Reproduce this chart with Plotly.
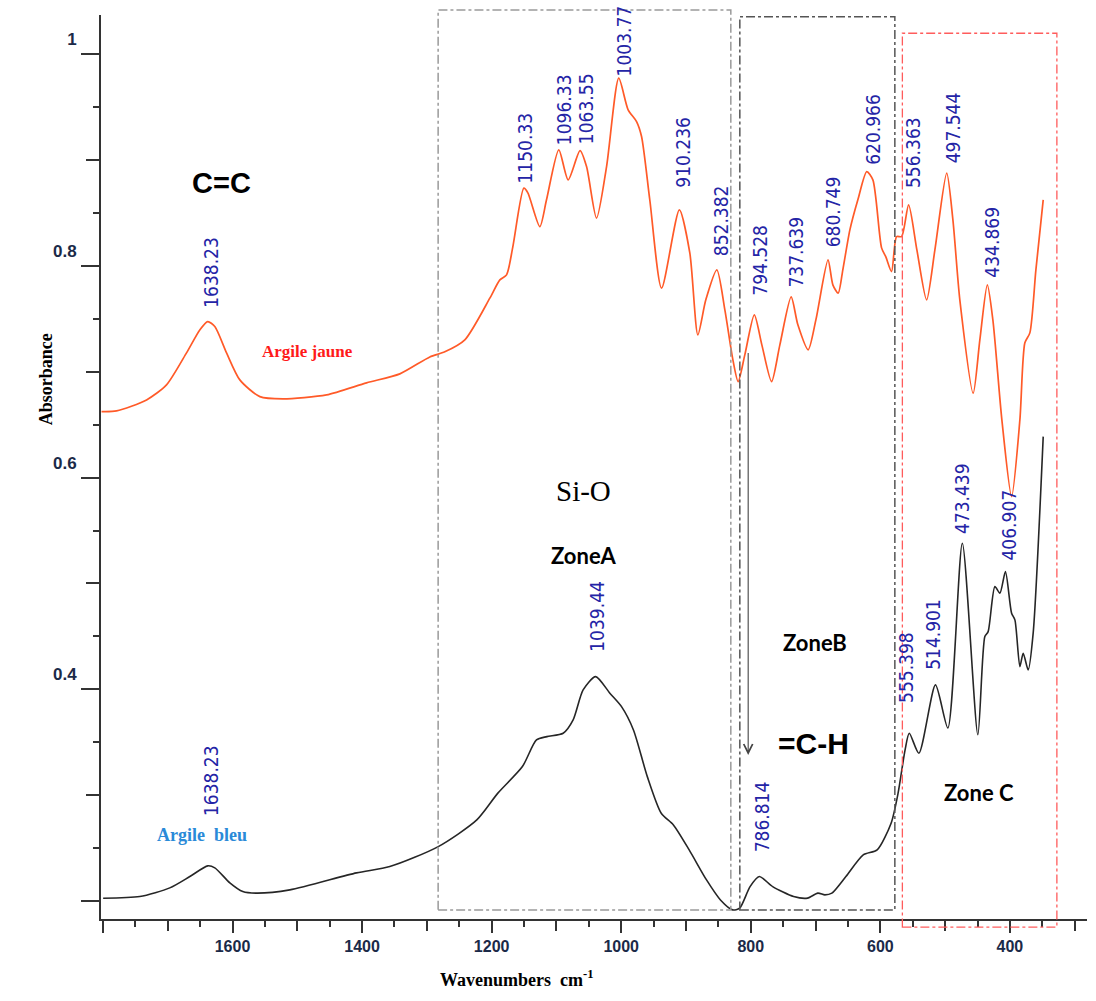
import plotly.graph_objects as go

# ---------------- data ----------------
wn_jaune = [1802.2, 1779.0, 1732.7, 1701.9, 1671.0, 1650.5, 1638.23, 1627.3, 1609.2, 1588.7,
            1557.8, 1522.3, 1454.9, 1393.1, 1341.7, 1295.4, 1272.3, 1241.4, 1202.8, 1187.3,
            1177.0, 1167.3, 1150.33, 1144.1, 1125.6, 1115.3, 1096.33, 1081.9, 1063.55, 1053.5,
            1038.1, 1022.6, 1003.77, 989.3, 976.3, 968.6, 955.8, 937.7, 910.236, 894.1,
            881.7, 869.4, 852.382, 840.0, 827.6, 819.5, 809.2, 794.528, 782.9, 767.9,
            755.1, 737.639, 727.3, 711.4, 699.5, 680.749, 673.3, 665.1, 657.9, 647.0,
            634.7, 620.966, 611.5, 598.1, 591.5, 582.7, 574.9, 567.2, 556.363, 543.6,
            528.6, 515.8, 497.544, 488.0, 477.3, 456.7, 446.4, 434.869, 426.3, 412.4,
            397.4, 384.6, 376.9, 369.2, 359.9, 348.6]
abs_jaune = [0.6624, 0.6630, 0.6734, 0.6876, 0.7178, 0.7395, 0.7474, 0.7427, 0.7178, 0.6923,
             0.6765, 0.6744, 0.6781, 0.6895, 0.6980, 0.7140, 0.7188, 0.7301, 0.7695, 0.7868,
             0.7915, 0.8180, 0.8734, 0.8690, 0.8371, 0.8624, 0.9096, 0.8813, 0.9089, 0.8938,
             0.8451, 0.8938, 0.9773, 0.9474, 0.9363, 0.9222, 0.8620, 0.7789, 0.8529, 0.8123,
             0.7348, 0.7679, 0.7962, 0.7584, 0.7112, 0.6907, 0.7159, 0.7537, 0.7254, 0.6907,
             0.7254, 0.7707, 0.7443, 0.7207, 0.7490, 0.8057, 0.7821, 0.7742, 0.7963, 0.8340,
             0.8624, 0.8891, 0.8812, 0.8170, 0.8085, 0.7946, 0.8277, 0.8277, 0.8576, 0.8151,
             0.7679, 0.8151, 0.8876, 0.8435, 0.7679, 0.6797, 0.7301, 0.7821, 0.7490, 0.6545,
             0.5821, 0.6545, 0.7273, 0.7367, 0.7962, 0.8624]

wn_bleu = [1799.7, 1743.1, 1696.8, 1665.9, 1638.23, 1627.3, 1604.1, 1584.1, 1563.0, 1511.5,
           1408.6, 1357.2, 1282.4, 1222.9, 1190.4, 1152.5, 1130.8, 1114.8, 1089.6, 1074.2,
           1058.8, 1039.44, 1017.5, 999.5, 981.1, 959.7, 938.2, 919.4, 895.1, 868.3,
           846.8, 828.0, 817.2, 801.1, 786.814, 766.2, 733.9, 712.4, 696.5, 685.6,
           674.8, 653.2, 626.4, 604.9, 583.4, 572.6, 561.8, 555.398, 540.5, 514.901,
           495.8, 473.439, 449.5, 438.7, 433.6, 423.2, 415.5, 406.907, 397.4, 392.3,
           384.6, 379.5, 371.8, 364.1, 348.6]
abs_bleu = [0.2026, 0.2042, 0.2124, 0.2231, 0.2332, 0.2313, 0.2171, 0.2089, 0.2074, 0.2105,
            0.2266, 0.2325, 0.2514, 0.2766, 0.3019, 0.3270, 0.3522, 0.3553, 0.3585, 0.3711,
            0.3994, 0.4120, 0.3963, 0.3836, 0.3616, 0.3175, 0.2829, 0.2719, 0.2483, 0.2199,
            0.2010, 0.1916, 0.1932, 0.2136, 0.2231, 0.2136, 0.2042, 0.2027, 0.2074, 0.2058,
            0.2074, 0.2231, 0.2436, 0.2483, 0.2735, 0.3019, 0.3428, 0.3585, 0.3396, 0.4042,
            0.3635, 0.5380, 0.3570, 0.4498, 0.4545, 0.4970, 0.4908, 0.5112, 0.4719, 0.4656,
            0.4214, 0.4341, 0.4183, 0.4530, 0.6387]

peaks_jaune = ["1638.23", "1150.33", "1096.33", "1063.55", "1003.77", "910.236", "852.382",
               "794.528", "737.639", "680.749", "620.966", "556.363", "497.544", "434.869"]
peaks_bleu = ["1638.23", "1039.44", "786.814", "555.398", "514.901", "473.439", "406.907"]

# zone limits (wavenumbers)
zoneA = (1282.6, 830.8)
zoneB = (816.9, 577.6)
zoneC = (566.0, 327.5)

x_ticks = [1600, 1400, 1200, 1000, 800, 600, 400]
y_ticks = [1.0, 0.8, 0.6, 0.4]

# ---------------- styling helpers ----------------
gap_jaune = [12, 3, 3, 4, 0, 20, 12, 17, 7, 10, 5, 15, 8, 5]
dx_jaune = [3, 1, 6, 6, 5, 4, 5, 6, 5, 5, 6, 5, 6, 5]
gap_bleu = [48, 23, 22, 28, 13, 7, 9]
dx_bleu = [4, 1, 3, -4, -2, -1, 4]

XR = [1803, 281]
YR = [0.183, 1.037]

ORANGE = "#ff5a28"
BLACK = "#262626"
LABEL_BLUE = "#2424a6"
TICK_COL = "#1b2a48"
PEAK_FONT = "Liberation Sans Narrow, Arial Narrow, DejaVu Sans Condensed, Liberation Sans, Arial"

fig = go.Figure()
fig.add_trace(go.Scatter(x=wn_jaune, y=abs_jaune, mode="lines",
                         line=dict(color=ORANGE, width=1.7, shape="spline", smoothing=0.7),
                         showlegend=False, hoverinfo="skip"))
fig.add_trace(go.Scatter(x=wn_bleu, y=abs_bleu, mode="lines",
                         line=dict(color=BLACK, width=1.6, shape="spline", smoothing=0.7),
                         showlegend=False, hoverinfo="skip"))
# invisible trace for overlay axes (used for longer tick marks)
fig.add_trace(go.Scatter(x=[None], y=[None], xaxis="x2", yaxis="y2", showlegend=False,
                         hoverinfo="skip"))

annotations = []


def peak_labels(names, wn, ab, gaps, dxs):
    for name, g, dx in zip(names, gaps, dxs):
        w = float(name)
        i = min(range(len(wn)), key=lambda k: abs(wn[k] - w))
        annotations.append(dict(x=w, y=ab[i], xref="x", yref="y", text=name, showarrow=False,
                                textangle=-90, xanchor="center", yanchor="bottom",
                                xshift=dx, yshift=g,
                                font=dict(family=PEAK_FONT, size=19, color=LABEL_BLUE)))


peak_labels(peaks_jaune, wn_jaune, abs_jaune, gap_jaune, dx_jaune)
peak_labels(peaks_bleu, wn_bleu, abs_bleu, gap_bleu, dx_bleu)

sans_bold = "Liberation Sans, Arial"
annotations += [
    dict(x=1617, y=0.878, text="<b>C=C</b>", showarrow=False,
         font=dict(family=sans_bold, size=29, color="black")),
    dict(x=1057.7, y=0.5874, text="Si-O", showarrow=False,
         font=dict(family="Liberation Serif, Times New Roman", size=29, color="black")),
    dict(x=1058.8, y=0.526, text="<b>ZoneA</b>", showarrow=False,
         font=dict(family="Lato, Open Sans", size=22, color="black")),
    dict(x=701.1, y=0.4438, text="<b>ZoneB</b>", showarrow=False,
         font=dict(family="Lato, Open Sans", size=22, color="black")),
    dict(x=448, y=0.3021, text="<b>Zone C</b>", showarrow=False,
         font=dict(family="Lato, Open Sans", size=22, color="black")),
    dict(x=702.6, y=0.3484, text="<b>=C-H</b>", showarrow=False,
         font=dict(family=sans_bold, size=30, color="black")),
    dict(x=1483.7, y=0.7188, text="<b>Argile jaune</b>", showarrow=False,
         font=dict(family="Liberation Serif, Times New Roman", size=17, color="#ff1a1a")),
    dict(x=1647.4, y=0.2624, text="<b>Argile  bleu</b>", showarrow=False,
         font=dict(family="Liberation Serif, Times New Roman", size=18, color="#2a8ad8")),
    # arrow
    dict(x=804.0, y=0.338, ax=804.0, ay=0.719, xref="x", yref="y", axref="x", ayref="y",
         text="", showarrow=True, arrowhead=5, arrowsize=1.6, arrowwidth=1.1, arrowcolor="#444"),
    # axis titles
    dict(x=-0.0558, y=0.597, xref="paper", yref="paper", text="<b>Absorbance</b>",
         showarrow=False, textangle=-90, xanchor="center", yanchor="middle",
         font=dict(family="Liberation Serif, Times New Roman", size=18, color="black")),
    dict(x=0.422, y=-0.066, xref="paper", yref="paper", xanchor="center", yanchor="middle",
         text="<b>Wavenumbers  cm<sup>-1</sup></b>", showarrow=False,
         font=dict(family="Liberation Serif, Times New Roman", size=18, color="black")),
]

shapes = [
    dict(type="rect", xref="x", yref="paper", x0=zoneA[0], x1=zoneA[1], y0=0.010, y1=1.0055,
         line=dict(color="#9a9a9a", width=1.5, dash="dashdot")),
    dict(type="rect", xref="x", yref="paper", x0=zoneB[0], x1=zoneB[1], y0=0.010, y1=0.998,
         line=dict(color="#555555", width=1.5, dash="dashdot")),
    dict(type="rect", xref="x", yref="paper", x0=zoneC[0], x1=zoneC[1], y0=-0.0089, y1=0.9798,
         line=dict(color="#ff5c5c", width=1.3, dash="dashdot")),
]

axis_font = dict(family=sans_bold, size=16, color=TICK_COL, weight="bold")
yvals = [round(0.2 + 0.1 * k, 2) for k in range(9)]

fig.update_layout(
    width=1096, height=1001,
    margin=dict(l=101, r=9, t=15, b=82),
    paper_bgcolor="white", plot_bgcolor="white",
    showlegend=False,
    xaxis=dict(range=XR, showgrid=False, zeroline=False,
               showline=True, linecolor="#333", linewidth=2,
               ticks="outside", ticklen=10, tickwidth=2, tickcolor="#333",
               tickvals=list(range(300, 1801, 100)),
               ticktext=[str(v) if v in x_ticks else "" for v in range(300, 1801, 100)],
               tickfont=axis_font, ticklabelstandoff=2,
               minor=dict(dtick=50, tick0=0, ticklen=6, tickwidth=2, tickcolor="#333",
                          ticks="outside", showgrid=False)),
    yaxis=dict(range=YR, showgrid=False, zeroline=False,
               showline=True, linecolor="#333", linewidth=2,
               ticks="outside", ticklen=13, tickwidth=2, tickcolor="#333",
               tickvals=yvals,
               ticktext=[("1" if abs(v - 1) < 1e-9 else f"{v:.1f}")
                         if any(abs(v - t) < 1e-9 for t in y_ticks) else "" for v in yvals],
               tickfont=dict(family=sans_bold, size=17, color=TICK_COL, weight="bold"),
               ticklabelshift=-15, ticklabelstandoff=6,
               minor=dict(dtick=0.05, tick0=0, ticklen=6, tickwidth=2, tickcolor="#333",
                          ticks="outside", showgrid=False)),
    xaxis2=dict(range=XR, overlaying="x", anchor="y", showgrid=False, zeroline=False,
                showline=False, ticks="outside", ticklen=13, tickwidth=2, tickcolor="#333",
                tickvals=list(range(400, 1801, 200)), showticklabels=False),
    yaxis2=dict(range=YR, overlaying="y", anchor="x", side="left", showgrid=False,
                zeroline=False, showline=False, ticks="outside", ticklen=19, tickwidth=2,
                tickcolor="#333", tickvals=[0.2, 0.4, 0.6, 0.8, 1.0], showticklabels=False),
    annotations=annotations,
    shapes=shapes,
)

fig.write_html("out.html")
